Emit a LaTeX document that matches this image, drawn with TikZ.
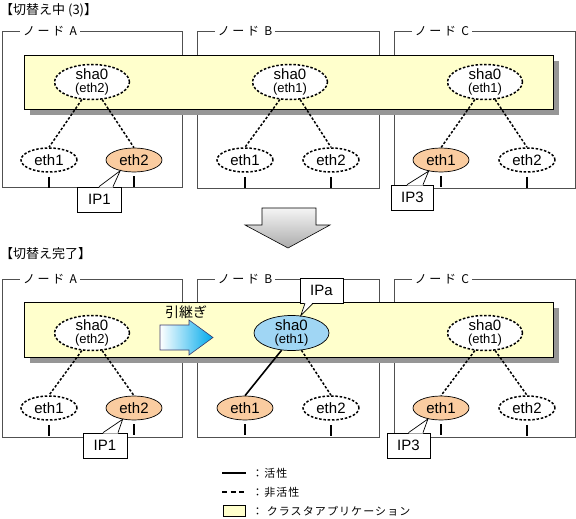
\documentclass[tikz,border=0pt]{standalone}
\usepackage{fontspec}
\setmainfont{Liberation Sans}
\newfontfamily\jpfont{Noto Sans CJK JP}
\newfontfamily\jpwide[LetterSpace=22]{Noto Sans CJK JP}
\newfontfamily\jplegend[LetterSpace=10]{Noto Sans CJK JP}
\usepackage{xcolor}
\usetikzlibrary{shapes.geometric,calc}

\definecolor{appyellow}{RGB}{255,255,204}
\definecolor{ethorange}{RGB}{250,204,160}
\definecolor{shablue}{RGB}{160,214,244}
\definecolor{barshadow}{RGB}{150,150,150}
\definecolor{framegray}{RGB}{80,80,80}
\definecolor{moveblue}{RGB}{0,170,235}
\definecolor{moveedge}{RGB}{60,60,110}

\tikzset{
  title/.style={anchor=west, inner sep=0pt, font=\jpfont\fontsize{13}{13}\selectfont},
  nodeframe/.style={draw=framegray, line width=0.9pt},
  framelabel/.style={fill=white, inner xsep=3pt, inner ysep=1pt, font=\jpwide\fontsize{12}{12}\selectfont},
  appbar/.style={draw=black, line width=0.9pt, fill=appyellow},
  barshade/.style={fill=barshadow},
  ifoff/.style={ellipse, draw, line width=1.5pt, dash pattern=on 2.5pt off 1.8pt, fill=white},
  ifon/.style={ellipse, draw, line width=0.7pt, fill=ethorange},
  shaon/.style={ellipse, draw, line width=0.7pt, fill=shablue},
  sha/.style={minimum width=75pt, minimum height=35pt, inner sep=0pt},
  eth/.style={minimum width=56pt, minimum height=24pt, inner sep=0pt, font=\fontsize{15}{15}\selectfont},
  shatext/.style={align=center, inner sep=0pt, font=\fontsize{15}{14}\selectfont},
  offline/.style={line width=1.5pt, dash pattern=on 2.5pt off 1.8pt},
  online/.style={line width=1.6pt},
  portmark/.style={line width=1.6pt},
  ipbox/.style={draw, line width=0.7pt, fill=white, minimum width=44pt, minimum height=25pt, inner sep=0pt, font=\fontsize{15}{15}\selectfont},
  callout/.style={draw, line width=0.7pt},
  legendtext/.style={anchor=west, inner sep=0pt, font=\jplegend\fontsize{11}{11}\selectfont},
}

\begin{document}
\begin{tikzpicture}[x=1pt,y=-1pt]
\useasboundingbox (0,0) rectangle (576,519);

% ---- switching (3) ----
\node[title] (titleTop) at (0,10) {【切替え中 (3)】};

\draw[nodeframe] (2,31) rectangle (182,187);
\draw[nodeframe] (197,31) rectangle (379,188);
\draw[nodeframe] (394,31) rectangle (575,188);
\node[framelabel] (labA) at (50,31) {ノード A};
\node[framelabel] (labB) at (245,31) {ノード B};
\node[framelabel] (labC) at (442,31) {ノード C};

\fill[barshade] (30,61) rectangle (559,115);
\draw[appbar] (24,55) rectangle (553,109);

\node[sha, ifoff, label={[shatext]center:{sha0\\[-1pt]{\fontsize{13}{13}\selectfont(eth2)}}}] (tshaA) at (92,82) {};
\node[sha, ifoff, label={[shatext]center:{sha0\\[-1pt]{\fontsize{13}{13}\selectfont(eth1)}}}] (tshaB) at (290,82) {};
\node[sha, ifoff, label={[shatext]center:{sha0\\[-1pt]{\fontsize{13}{13}\selectfont(eth1)}}}] (tshaC) at (485,82) {};

\node[eth, ifoff] (tethA1) at (49,160) {eth1};
\node[eth, ifon]  (tethA2) at (134,160) {eth2};
\node[eth, ifoff] (tethB1) at (245,160) {eth1};
\node[eth, ifoff] (tethB2) at (331,160) {eth2};
\node[eth, ifon]  (tethC1) at (441,160) {eth1};
\node[eth, ifoff] (tethC2) at (527,160) {eth2};

\draw[offline] (tshaA.-120) -- (tethA1.north);
\draw[offline] (tshaA.-60) -- (tethA2.north);
\draw[offline] (tshaB.-120) -- (tethB1.north);
\draw[offline] (tshaB.-60) -- (tethB2.north);
\draw[offline] (tshaC.-120) -- (tethC1.north);
\draw[offline] (tshaC.-60) -- (tethC2.north);

\foreach \p in {tethA1,tethA2,tethB1,tethB2,tethC1,tethC2}
  \draw[portmark] ($(\p.south)+(0,4)$) -- ($(\p.south)+(0,15)$);

\node[ipbox] (tipA) at (99.5,199.5) {IP1};
\fill[white] ($(tipA.north)+(-0.5,1)$) -- (tethA2.-142) -- ($(tipA.north)+(13.5,1)$) -- cycle;
\draw[callout] ($(tipA.north)+(-0.5,0)$) -- (tethA2.-142) -- ($(tipA.north)+(13.5,0)$);
\node[ipbox, minimum width=42pt] (tipC) at (412.5,197.5) {IP3};
\fill[white] ($(tipC.north)+(-5.5,1)$) -- (tethC1.-138) -- ($(tipC.north)+(10.5,1)$) -- cycle;
\draw[callout] ($(tipC.north)+(-5.5,0)$) -- (tethC1.-138) -- ($(tipC.north)+(10.5,0)$);

% ---- arrow down ----
\shade[top color=gray!8, bottom color=gray!65, draw=black, line width=0.6pt]
  (262,208) -- (316,208) -- (316,225) -- (330,225) -- (288,248) -- (245,225) -- (262,225) -- cycle;

% ---- switching done ----
\node[title] (titleBot) at (0,254) {【切替え完了】};

\draw[nodeframe] (2,279) rectangle (182,437);
\draw[nodeframe] (197,279) rectangle (379,437);
\draw[nodeframe] (394,279) rectangle (575,437);
\node[framelabel] (blabA) at (50,279) {ノード A};
\node[framelabel] (blabB) at (245,279) {ノード B};
\node[framelabel] (blabC) at (442,279) {ノード C};

\fill[barshade] (30,308) rectangle (559,363);
\draw[appbar] (24,302) rectangle (553,357);

\node[sha, ifoff, label={[shatext]center:{sha0\\[-1pt]{\fontsize{13}{13}\selectfont(eth2)}}}] (bshaA) at (92,333) {};
\node[sha, shaon, label={[shatext]center:{sha0\\[-1pt]{\fontsize{13}{13}\selectfont(eth1)}}}] (bshaB) at (291.5,333) {};
\node[sha, ifoff, label={[shatext]center:{sha0\\[-1pt]{\fontsize{13}{13}\selectfont(eth1)}}}] (bshaC) at (485,333) {};

\node[eth, ifoff] (bethA1) at (49,408) {eth1};
\node[eth, ifon]  (bethA2) at (134,408) {eth2};
\node[eth, ifon]  (bethB1) at (245,408) {eth1};
\node[eth, ifoff] (bethB2) at (331,408) {eth2};
\node[eth, ifon]  (bethC1) at (441,408) {eth1};
\node[eth, ifoff] (bethC2) at (527,408) {eth2};

\draw[offline] (bshaA.-120) -- (bethA1.north);
\draw[offline] (bshaA.-60) -- (bethA2.north);
\draw[online]  (bshaB.-120) -- (bethB1.north);
\draw[offline] (bshaB.-60) -- (bethB2.north);
\draw[offline] (bshaC.-120) -- (bethC1.north);
\draw[offline] (bshaC.-60) -- (bethC2.north);

\foreach \p in {bethA1,bethA2,bethB1,bethB2,bethC1,bethC2}
  \draw[portmark] ($(\p.south)+(0,4)$) -- ($(\p.south)+(0,15)$);

\node[ipbox] (bipA) at (105,445.5) {IP1};
\fill[white] ($(bipA.north)+(-2,1)$) -- (bethA2.-135) -- ($(bipA.north)+(13,1)$) -- cycle;
\draw[callout] ($(bipA.north)+(-2,0)$) -- (bethA2.-135) -- ($(bipA.north)+(13,0)$);
\node[ipbox, minimum width=43pt] (bipC) at (408.5,445.5) {IP3};
\fill[white] ($(bipC.north)+(0,1)$) -- (bethC1.-140) -- ($(bipC.north)+(14.5,1)$) -- cycle;
\draw[callout] ($(bipC.north)+(0,0)$) -- (bethC1.-140) -- ($(bipC.north)+(14.5,0)$);
\node[ipbox, minimum width=43pt] (bipB) at (321.5,290.5) {IPa};
\fill[white] ($(bipB.south)+(-16.5,-1)$) -- (bshaB.62) -- ($(bipB.south)+(-8.5,-1)$) -- cycle;
\draw[callout] ($(bipB.south)+(-16.5,0)$) -- (bshaB.62) -- ($(bipB.south)+(-8.5,0)$);

% takeover arrow
\shade[left color=white, right color=moveblue, draw=moveedge, line width=0.6pt]
  (160,325) -- (189,325) -- (189,320) -- (213,337.5) -- (189,355) -- (189,350) -- (160,350) -- cycle;
\node[inner sep=0pt, font=\jpfont\fontsize{14}{14}\selectfont] (takeover) at (186,312) {引継ぎ};

% ---- legend ----
\coordinate (legOnA) at (222,473);
\coordinate (legOnB) at (246,473);
\coordinate (legOffA) at (222,492);
\coordinate (legOffB) at (246,492);
\draw[online] (legOnA) -- (legOnB);
\draw[line width=1.6pt, dash pattern=on 5pt off 3.5pt] (legOffA) -- (legOffB);
\draw[appbar, line width=0.7pt] (223,505) rectangle (245,516);
\node[legendtext] (legOn) at (252,473) {：活性};
\node[legendtext] (legOff) at (252,492) {：非活性};
\node[legendtext] (legApp) at (252,511) {： クラスタアプリケーション};
\end{tikzpicture}
\end{document}
